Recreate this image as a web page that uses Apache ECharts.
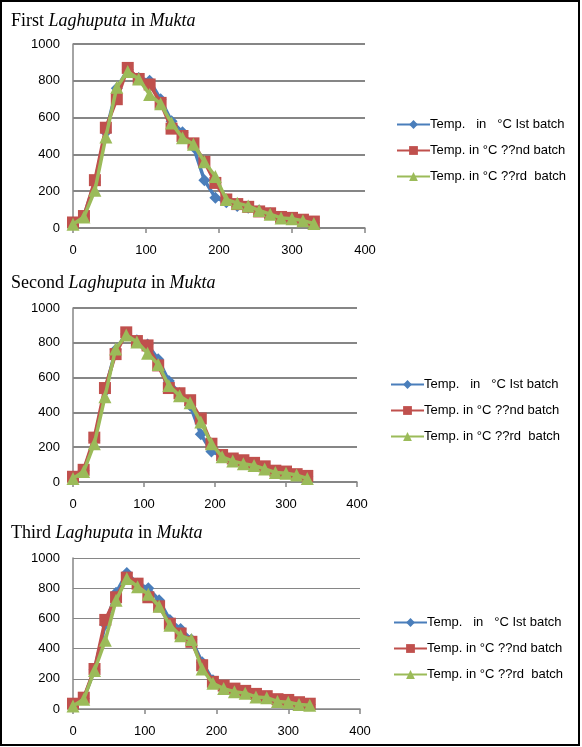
<!DOCTYPE html>
<html>
<head>
<meta charset="utf-8">
<script src="https://cdn.jsdelivr.net/npm/echarts@6/dist/echarts.min.js"></script>
<style>
html,body{margin:0;padding:0;background:#fff;}
#c{width:582px;height:747px;}
</style>
</head>
<body>
<div id="c"></div>
<script>
// Time (minutes)
const times = [0,15,30,45,60,75,90,105,120,135,150,165,180,195,210,225,240,255,270,285,300,315,330];
const xTicks = [0,100,200,300,400];
const yTicks = [0,200,400,600,800,1000];

const seriesNames = ['Temp.   in   °C Ist batch','Temp. in °C ??nd batch','Temp. in °C ??rd  batch'];
const panelTitles = [['First ','Laghuputa',' in ','Mukta'],['Second ','Laghuputa',' in ','Mukta'],['Third ','Laghuputa',' in ','Mukta']];

// Panel 1
const p1Batch1 = [30,65,250,520,760,860,815,800,700,580,520,440,260,165,140,120,110,95,80,60,50,40,30];
const p1Batch2 = [30,65,260,545,700,870,810,780,680,540,500,460,360,245,155,130,115,90,80,60,55,45,35];
const p1Batch3 = [20,60,205,495,765,850,810,725,675,570,490,455,360,280,155,135,120,95,75,55,50,40,25];
// Panel 2
const p2Batch1 = [30,65,240,520,760,850,815,790,705,580,510,440,275,175,150,125,115,100,85,60,55,40,30];
const p2Batch2 = [30,70,255,540,735,860,810,785,670,540,510,470,365,220,155,135,125,110,90,65,60,45,35];
const p2Batch3 = [20,60,220,490,765,845,805,740,675,555,495,455,345,220,145,120,105,95,75,55,50,40,20];
// Panel 3
const p3Batch1 = [30,70,260,560,770,900,830,800,720,590,530,460,310,190,150,130,115,95,80,60,55,40,30];
const p3Batch2 = [35,75,265,590,740,870,830,740,680,565,500,445,290,180,155,135,120,100,85,65,60,45,35];
const p3Batch3 = [20,65,255,455,720,865,810,760,680,555,485,460,265,170,135,115,105,80,75,50,45,30,25];

const panels = [[p1Batch1,p1Batch2,p1Batch3],[p2Batch1,p2Batch2,p2Batch3],[p3Batch1,p3Batch2,p3Batch3]];

const colors = ['#4A7EBB','#C0504D','#9BBB59'];
const symbols = ['diamond','rect','triangle'];
const symbolSizes = [12,12,13];

const grids = [
  {left:73, top:44, width:292, height:184},
  {left:73, top:308, width:284, height:174},
  {left:73, top:558, width:287, height:151}
];
const gridLineW = [2,2,1.2];
const legendPos = [
  {left:396, top:118},
  {left:390, top:378},
  {left:393, top:616}
];
const titlePos = [{left:11, top:12},{left:11, top:274},{left:11, top:524}];

const chart = echarts.init(document.getElementById('c'), null, {renderer:'canvas'});

const option = {
  backgroundColor:'#ffffff',
  animation:false,
  title: panelTitles.map((t,i)=>({
    left:titlePos[i].left, top:titlePos[i].top, padding:0,
    text:'{n|'+t[0]+'}{i|'+t[1]+'}{n|'+t[2]+'}{i|'+t[3]+'}',
    textStyle:{
      fontWeight:'normal',
      rich:{
        n:{fontFamily:'Liberation Serif', fontSize:18, fontWeight:'normal', color:'#000'},
        i:{fontFamily:'Liberation Serif', fontSize:18, fontWeight:'normal', fontStyle:'italic', color:'#000'}
      }
    }
  })),
  legend: legendPos.map((p)=>({
    left:p.left, top:p.top, orient:'vertical', padding:0,
    itemWidth:33, itemHeight:11, itemGap:13,
    data:seriesNames,
    textStyle:{fontFamily:'Liberation Sans', fontSize:13, color:'#000', padding:[0,0,0,-5]}
  })),
  grid: grids,
  xAxis: grids.map((g,i)=>({
    gridIndex:i, type:'value', min:xTicks[0], max:xTicks[xTicks.length-1], interval:100,
    axisLine:{show:true, lineStyle:{color:'#868686', width:1.5}},
    axisTick:{show:true, length:5, lineStyle:{color:'#868686', width:1.5}},
    splitLine:{show:false},
    axisLabel:{fontFamily:'Liberation Sans', fontSize:13, color:'#000', margin:16}
  })),
  yAxis: grids.map((g,i)=>({
    gridIndex:i, type:'value', min:yTicks[0], max:yTicks[yTicks.length-1], interval:200,
    axisLine:{show:true, lineStyle:{color:'#868686', width:1.5}},
    axisTick:{show:false},
    splitLine:{show:true, lineStyle:{color:'#868686', width:gridLineW[i]}},
    axisLabel:{fontFamily:'Liberation Sans', fontSize:13, color:'#000', margin:13, formatter:(v)=>String(v)}
  })),
  series: [],
  graphic: [{
    type:'rect', shape:{x:1, y:1, width:578, height:744},
    style:{fill:'none', stroke:'#000', lineWidth:2}, silent:true, z:100
  }]
};

panels.forEach((pd,pi)=>{
  pd.forEach((vals,si)=>{
    option.series.push({
      name:seriesNames[si], type:'line', xAxisIndex:pi, yAxisIndex:pi,
      data: times.map((t,k)=>[t, vals[k]]),
      symbol:symbols[si], symbolSize:symbolSizes[si], showAllSymbol:true,
      itemStyle:{color:colors[si], borderWidth:0},
      lineStyle:{color:colors[si], width:3.5},
      z:2+si
    });
  });
});

chart.setOption(option);
</script>
</body>
</html>
